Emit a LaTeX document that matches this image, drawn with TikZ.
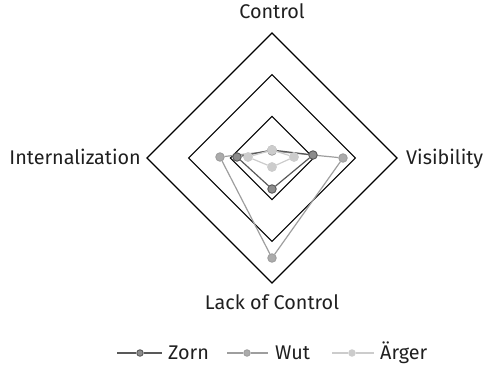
\documentclass[tikz,border=0pt]{standalone}
\usepackage{fontspec}
\setmainfont{Fira Sans}
\begin{document}
\begin{tikzpicture}[x=1pt,y=-1pt,
  grid/.style={draw=black, line width=1.1pt},
  axislabel/.style={font=\fontsize{19.8}{22}\selectfont, text=black!88, inner sep=0pt},
  zornline/.style={draw=black!65, line width=1.2pt},
  wutline/.style={draw=black!38, line width=1.2pt},
  aergerline/.style={draw=black!20, line width=1.2pt},
  dot/.style={circle, inner sep=0pt, minimum size=8.5pt, line width=0.9pt},
  zorndot/.style={dot, fill=black!45, draw=black!65},
  wutdot/.style={dot, fill=black!33, draw=black!38},
  aergerdot/.style={dot, fill=black!20, draw=black!20},
  keydot/.style={minimum size=6.5pt}]
\useasboundingbox (0,0) rectangle (484,364);

% concentric diamonds of the radar grid
\foreach \r in {41.7, 83.3, 125} {
  \draw[grid] (272,158-\r) -- (272+\r,158) -- (272,158+\r) -- (272-\r,158) -- cycle;
}

% axis labels
\node[axislabel, anchor=base] (top) at (272,18) {Control};
\node[axislabel, anchor=base east] (left) at (141,164) {Internalization};
\node[axislabel, anchor=base west] (right) at (406,164) {Visibility};
\node[axislabel, anchor=base] (bottom) at (272,309) {Lack of Control};

% Wut
\node[wutdot] (w1) at (272,151) {};
\node[wutdot] (w2) at (343,158) {};
\node[wutdot] (w3) at (272,258) {};
\node[wutdot] (w4) at (220,157) {};
\draw[wutline] (w1) -- (w2) -- (w3) -- (w4) -- (w1);

% Zorn
\node[zorndot] (z1) at (272,150) {};
\node[zorndot] (z2) at (313,155) {};
\node[zorndot] (z3) at (272,189) {};
\node[zorndot] (z4) at (237,157) {};
\draw[zornline] (z1) -- (z2) -- (z3) -- (z4) -- (z1);

% Ärger
\node[aergerdot] (a1) at (272,150) {};
\node[aergerdot] (a2) at (294,157) {};
\node[aergerdot] (a3) at (272,167) {};
\node[aergerdot] (a4) at (248,157) {};
\draw[aergerline] (a1) -- (a2) -- (a3) -- (a4) -- (a1);
\node[aergerdot] at (a1) {};
\node[aergerdot] at (a2) {};
\node[aergerdot] at (a3) {};
\node[aergerdot] at (a4) {};

% legend
\coordinate (k1a) at (117,353); \coordinate (k1b) at (162,353);
\node[zorndot, keydot] (k1) at (140,353) {};
\draw[zornline] (k1a) -- (k1) -- (k1b);
\node[axislabel, anchor=base west] (t1) at (168,359) {Zorn};

\coordinate (k2a) at (227,353); \coordinate (k2b) at (268,353);
\node[wutdot, keydot] (k2) at (247,353) {};
\draw[wutline] (k2a) -- (k2) -- (k2b);
\node[axislabel, anchor=base west] (t2) at (275,359) {Wut};

\coordinate (k3a) at (332,353); \coordinate (k3b) at (374,353);
\node[aergerdot, keydot] (k3) at (352,353) {};
\draw[aergerline] (k3a) -- (k3) -- (k3b);
\node[axislabel, anchor=base west] (t3) at (380,359) {Ärger};
\end{tikzpicture}
\end{document}
